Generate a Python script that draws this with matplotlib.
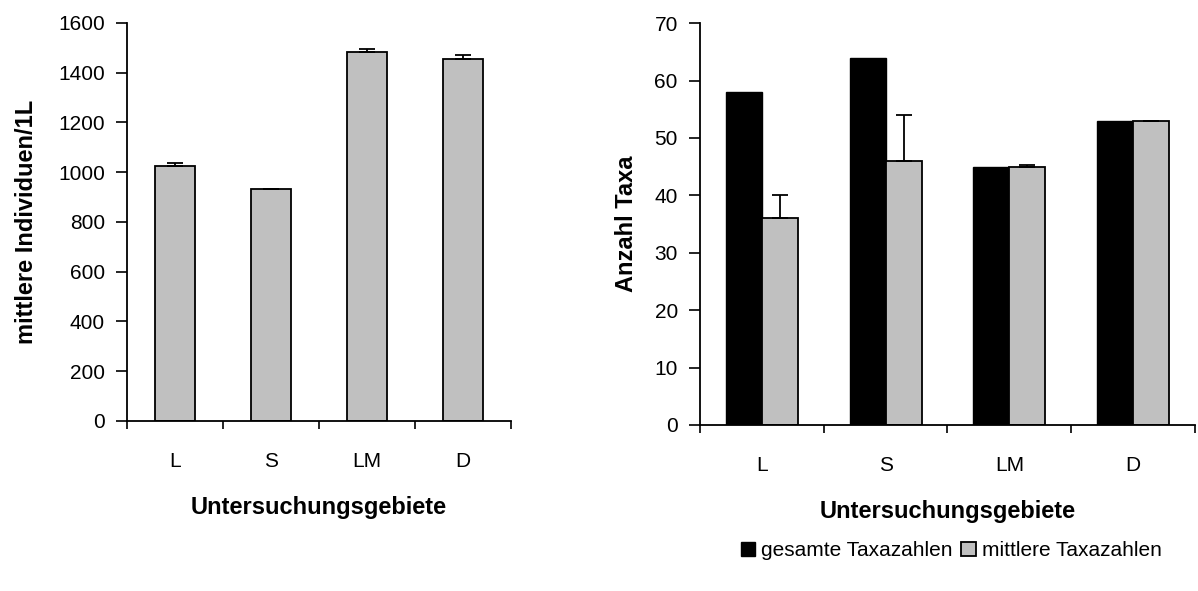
import numpy as np
import matplotlib
matplotlib.use('Agg')
import matplotlib.pyplot as plt
from matplotlib.patches import Patch

plt.rcParams['font.family'] = ['Liberation Sans', 'DejaVu Sans']
plt.rcParams['font.size'] = 15

# Untersuchungsgebiete
gebiete = ['L', 'S', 'LM', 'D']

# mittlere Individuen pro Liter mit Fehler
individuen = [1026, 931, 1482, 1456]
individuen_err = [10, 2, 15, 17]

# Taxazahlen
taxa_gesamt = [58, 64, 45, 53]
taxa_mittel = [36, 46, 45, 53]
taxa_mittel_err = [4, 8, 0.2, 0]

grau = '#c0c0c0'

fig = plt.figure(figsize=(11.98, 5.91), dpi=100)


def achsen_stil(ax):
    ax.spines['top'].set_visible(False)
    ax.spines['right'].set_visible(False)
    ax.spines['left'].set_linewidth(1.3)
    ax.spines['bottom'].set_linewidth(1.3)
    ax.tick_params(axis='y', direction='out', length=8, width=1.2, pad=8, labelsize=15)
    ax.tick_params(axis='x', which='major', length=0, pad=22, labelsize=15)
    ax.tick_params(axis='x', which='minor', direction='out', length=6, width=1.2)


# linkes Diagramm: Individuen
ax1 = fig.add_axes([0.106, 0.2877, 0.3205, 0.6734])
x = np.arange(len(gebiete))
ax1.bar(x, individuen, width=0.42, color=grau, edgecolor='black', linewidth=1.3,
        yerr=[np.zeros(len(individuen_err)), individuen_err],
        error_kw=dict(ecolor='black', elinewidth=1.3, capsize=6, capthick=1.3))
ax1.set_xlim(-0.5, len(gebiete) - 0.5)
ax1.set_ylim(0, 1600)
ax1.set_yticks(np.arange(0, 1601, 200))
ax1.set_xticks(x)
ax1.set_xticklabels(gebiete)
ax1.set_xticks(np.arange(-0.5, len(gebiete)), minor=True)
achsen_stil(ax1)
ax1.set_ylabel('mittlere Individuen/1L', fontweight='bold', fontsize=17, labelpad=14)
ax1.set_xlabel('Untersuchungsgebiete', fontweight='bold', fontsize=17, labelpad=18)

# rechtes Diagramm: Taxazahlen
ax2 = fig.add_axes([0.5843, 0.2809, 0.4132, 0.680])
w = 0.29
ax2.bar(x - w / 2, taxa_gesamt, width=w, color='black', edgecolor='black', linewidth=1.0,
        label='gesamte Taxazahlen')
ax2.bar(x + w / 2, taxa_mittel, width=w, color=grau, edgecolor='black', linewidth=1.3,
        label='mittlere Taxazahlen',
        yerr=[np.zeros(len(taxa_mittel_err)), taxa_mittel_err],
        error_kw=dict(ecolor='black', elinewidth=1.3, capsize=6, capthick=1.3))
ax2.set_xlim(-0.5, len(gebiete) - 0.5)
ax2.set_ylim(0, 70)
ax2.set_yticks(np.arange(0, 71, 10))
ax2.set_xticks(x)
ax2.set_xticklabels(gebiete)
ax2.set_xticks(np.arange(-0.5, len(gebiete)), minor=True)
achsen_stil(ax2)
ax2.set_ylabel('Anzahl Taxa', fontweight='bold', fontsize=17, labelpad=12)
ax2.set_xlabel('Untersuchungsgebiete', fontweight='bold', fontsize=17, labelpad=18)

handles = [Patch(facecolor='black', edgecolor='black', linewidth=1.0),
           Patch(facecolor=grau, edgecolor='black', linewidth=1.3)]
fig.legend(handles, ['gesamte Taxazahlen', 'mittlere Taxazahlen'],
           loc='center', bbox_to_anchor=(0.794, 0.068), ncol=2, frameon=False,
           fontsize=15, handlelength=0.7, handleheight=0.7, handletextpad=0.3,
           columnspacing=0.4, borderaxespad=0)

fig.savefig('out.png', dpi=100)
